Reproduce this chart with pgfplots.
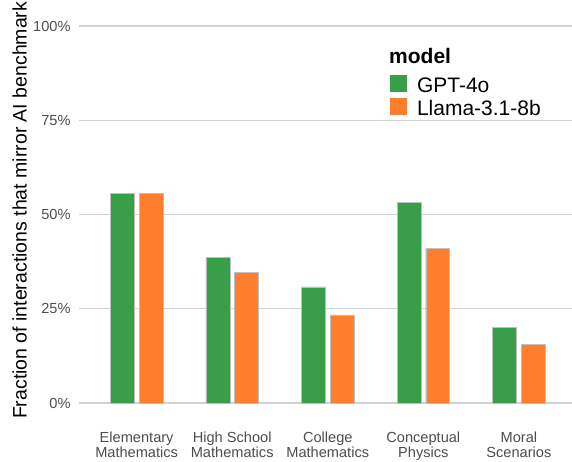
\documentclass[border=0pt]{standalone}
\usepackage{pgfplots}
\pgfplotsset{compat=1.18}
\usepackage{fontspec}
\setmainfont{Liberation Sans}

\definecolor{gptgreen}{RGB}{56,158,74}
\definecolor{llamaorange}{RGB}{253,126,44}
\definecolor{ticktext}{RGB}{77,77,77}
\definecolor{gridgray}{RGB}{210,210,210}

\pgfplotsset{
  sqkey/.style={legend image code/.code={
    \draw[##1, draw=white, line width=0.8pt] (0pt,0pt) rectangle (17.5pt,18pt);}},
}

\begin{document}
\begin{tikzpicture}
\begin{axis}[
  scale only axis,
  width=492.7pt, height=414.7pt,
  xmin=-0.6, xmax=4.556,
  ymin=-5, ymax=105,
  axis line style={draw=none},
  tick style={draw=none},
  ytick={0,25,50,75,100},
  yticklabel={\pgfmathprintnumber{\tick}\%},
  /pgf/number format/assume math mode=true,
  yticklabel style={anchor=east, inner sep=0pt, xshift=-8.6pt,
    font=\fontsize{14.6}{15}\selectfont, text=ticktext},
  xtick={0,1,2,3,4},
  xticklabels={{Elementary\\Mathematics},{High School\\Mathematics},
    {College\\Mathematics},{Conceptual\\Physics},{Moral\\Scenarios}},
  xticklabel style={align=center, anchor=north, inner sep=0pt, yshift=-5.4pt,
    font=\fontsize{14.6}{15.3}\selectfont, text=ticktext},
  ymajorgrids,
  grid style={gridgray, line width=1.1pt},
  ylabel={Fraction of interactions that mirror AI benchmark},
  ylabel style={at={(axis description cs:-0.10676,0.51)}, anchor=base,
    font=\fontsize{19.5}{20}\selectfont, text=black},
  ybar,
  bar width=0.25,
  legend style={at={(axis description cs:0.6286,0.8388)}, anchor=north west,
    draw=none, fill=none, inner sep=0pt, row sep=3pt, column sep=9.5pt,
    font=\fontsize{21}{21}\selectfont, nodes={inner sep=0pt},
    cells={anchor=base west}},
]
\addplot[fill=gptgreen, draw=gray!50, line width=0.4pt, bar shift=-0.15, sqkey]
  coordinates {(0,55.7) (1,38.7) (2,30.8) (3,53.3) (4,20.0)};
\addplot[fill=llamaorange, draw=gray!50, line width=0.4pt, bar shift=0.15, sqkey]
  coordinates {(0,55.7) (1,34.7) (2,23.4) (3,41.0) (4,15.5)};
\legend{GPT-4o, Llama-3.1-8b}
\end{axis}
\node[anchor=base west, inner sep=0pt, font=\fontsize{21}{21}\selectfont\bfseries]
  at ([shift={(309.7pt,-56.35pt)}]current axis.north west) {model};
\pgfresetboundingbox
\path ([shift={(-79.3pt,-39.15pt)}]current axis.south west)
  rectangle ([shift={(0pt,7.15pt)}]current axis.north east);
\end{tikzpicture}
\end{document}
